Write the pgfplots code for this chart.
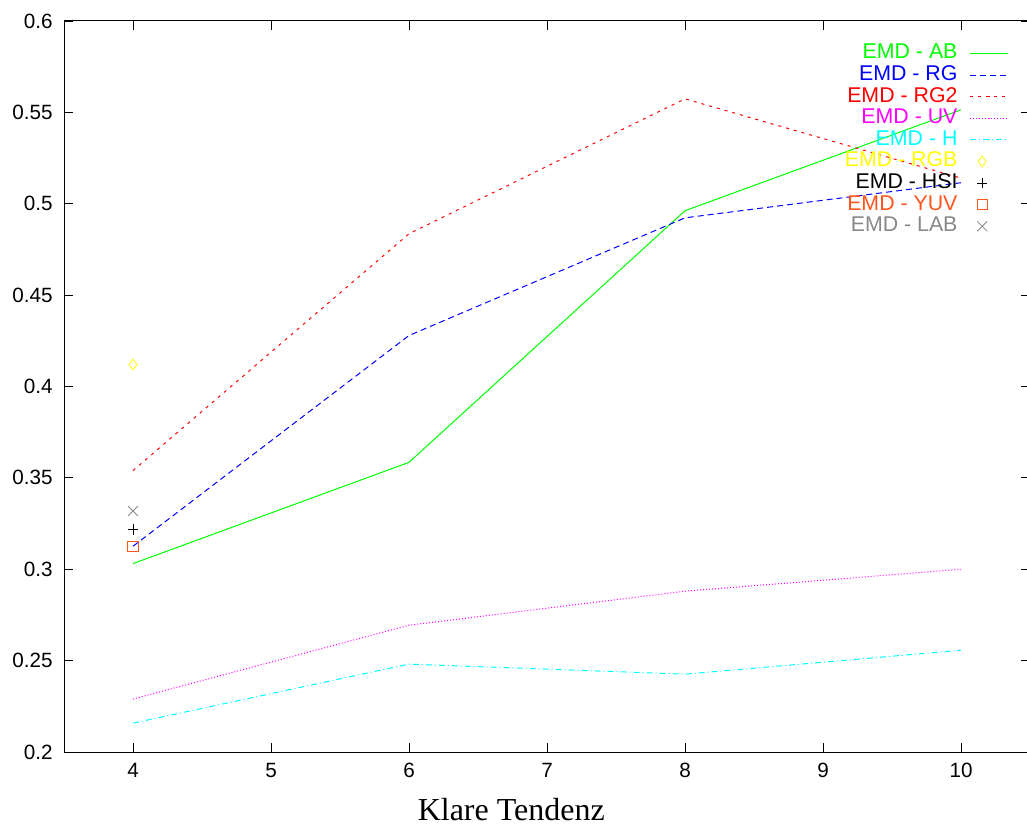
\documentclass[border=0pt]{standalone}
\usepackage{fontspec}
\setmainfont{Liberation Sans}
\newfontfamily\seriffont{Liberation Serif}
\usepackage{pgfplots}
\pgfplotsset{compat=1.18}
\usetikzlibrary{calc}
\definecolor{cGreen}{RGB}{0,255,0}
\definecolor{cBlue}{RGB}{0,0,255}
\definecolor{cRed}{RGB}{255,0,0}
\definecolor{cMagenta}{RGB}{255,0,255}
\definecolor{cCyan}{RGB}{0,255,255}
\definecolor{cYellow}{RGB}{255,255,0}
\definecolor{cOrange}{RGB}{255,85,30}
\definecolor{cGray}{RGB}{136,136,136}
\pgfplotsset{markonly legend/.style={legend image code/.code={\path (0cm,0cm) (1cm,0cm); \draw[##1] plot coordinates {(0.32cm,0cm)};}}}
\begin{document}
\begin{tikzpicture}
\begin{axis}[
  name=ax,
  scale only axis,
  width=724.5pt, height=548.25pt,
  xmin=3.5, xmax=10.5, ymin=0.2, ymax=0.6,
  xtick={4,5,6,7,8,9,10},
  ytick={0.2,0.25,0.3,0.35,0.4,0.45,0.5,0.55,0.6},
  tick align=inside,
  major tick length=7pt,
  tick style={black, line width=0.6pt},
  axis line style={black, line width=0.75pt},
  /pgf/number format/.cd, fixed, precision=2, assume math mode=true,
  /pgfplots/.cd,
  ticklabel style={font=\fontsize{15.5}{18}\selectfont},
  xticklabel style={yshift=-5pt},
  yticklabel style={xshift=-5pt},
  xlabel={Klare Tendenz},
  xlabel style={at={(rel axis cs:0.463,-0.079)}, anchor=center, font={\seriffont\fontsize{24}{28}\selectfont}},
  legend plot pos=right,
  legend cell align=right,
  legend style={at={(rel axis cs:0.978,0.9707)}, anchor=north east, draw=none, fill=none, inner sep=0pt,
    font=\fontsize{16}{19}\selectfont, row sep=0pt, column sep=8pt,
    nodes={inner sep=1pt, text height=11.2pt, text depth=3pt}},
  legend image code/.code={\draw[mark repeat=2,mark phase=2,#1,line width=0.8pt] plot coordinates {(0cm,0cm) (0.5cm,0cm) (1cm,0cm)};},
]
\addplot[cGreen, line width=0.75pt] coordinates {(4,0.3031)(6,0.3585)(8,0.4962)(10,0.5514)};
\addlegendentry[text=cGreen]{EMD - AB}
\addplot[cBlue, line width=0.75pt, dash pattern=on 4.5pt off 3pt] coordinates {(4,0.3126)(6,0.4279)(8,0.4923)(10,0.5115)};
\addlegendentry[text=cBlue]{EMD - RG}
\addplot[cRed, line width=0.75pt, dash pattern=on 2.25pt off 3.75pt] coordinates {(4,0.354)(6,0.4836)(8,0.5574)(10,0.514)};
\addlegendentry[text=cRed]{EMD - RG2}
\addplot[cMagenta, line width=0.75pt, dash pattern=on 0.75pt off 1.5pt] coordinates {(4,0.229)(6,0.2694)(8,0.288)(10,0.300)};
\addlegendentry[text=cMagenta]{EMD - UV}
\addplot[cCyan, line width=0.75pt, dash pattern=on 4.5pt off 2.25pt on 0.75pt off 2.25pt] coordinates {(4,0.2158)(6,0.2481)(8,0.2426)(10,0.2557)};
\addlegendentry[text=cCyan]{EMD - H}
\addplot[only marks, markonly legend, mark=diamond, cYellow, mark size=4pt, mark options={line width=0.6pt}] coordinates {(4,0.412)};
\addlegendentry[text=cYellow]{EMD - RGB}
\addplot[only marks, markonly legend, mark=+, black, mark size=3.9pt, mark options={line width=0.6pt}] coordinates {(4,0.3217)};
\addlegendentry[text=black]{EMD - HSI}
\addplot[only marks, markonly legend, mark=square, cOrange, mark size=3.9pt, mark options={line width=0.6pt}] coordinates {(4,0.3126)};
\addlegendentry[text=cOrange]{EMD - YUV}
\addplot[only marks, markonly legend, mark=x, cGray, mark size=5.2pt, mark options={line width=0.6pt}] coordinates {(4,0.3319)};
\addlegendentry[text=cGray]{EMD - LAB}
\end{axis}
\pgfresetboundingbox
\path ($(ax.south west)+(-48pt,-57.75pt)$) rectangle ($(ax.north east)+(-2.25pt,15.75pt)$);
\end{tikzpicture}
\end{document}
